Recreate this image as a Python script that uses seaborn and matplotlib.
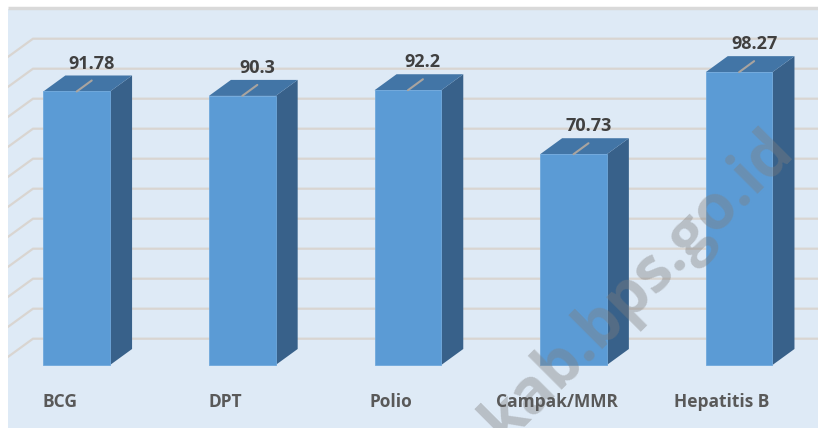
import numpy as np
import pandas as pd
import matplotlib
matplotlib.use('Agg')
import matplotlib.pyplot as plt
from matplotlib.patches import Polygon, Rectangle
import seaborn as sns

categories = ['BCG', 'DPT', 'Polio', 'Campak/MMR', 'Hepatitis B']
values = [91.78, 90.3, 92.2, 70.73, 98.27]
value_labels = ['91.78', '90.3', '92.2', '70.73', '98.27']
grid_values = list(range(0, 101, 10))
watermark = 'kab.bps.go.id'

sns.set_style('white')
plt.rcParams['font.family'] = ['Open Sans', 'DejaVu Sans']

front = '#5B9BD5'
side = '#38618A'
top = '#4275A6'
bg = '#DEEAF6'
grid = '#D9D5D1'

W, H = 818, 428
fig = plt.figure(figsize=(W / 100, H / 100), dpi=100)
ax = fig.add_axes([0, 0, 1, 1])

# front faces of the bars
df = pd.DataFrame({'category': categories, 'value': values})
sns.barplot(data=df, x='category', y='value', width=0.403, color=front,
            saturation=1, ax=ax, zorder=3, edgecolor='#6FA8DC', linewidth=0.6)
bars = list(ax.patches)

# layout in pixels -> data units
sx = 165.6            # px per category
sy = 2.98             # px per value unit
x0_px, base_px = 76.7, 365
ax.set_xlim(-x0_px / sx, (W - x0_px) / sx)
ax.set_ylim(-(H - base_px) / sy, base_px / sy)


def px(x, y):
    return (x - x0_px) / sx, (base_px - y) / sy


# plot area background and top border
ax.add_patch(Rectangle((8 / W, 0.5 / H), 1 - 8 / W, (H - 9.5) / H,
                       transform=ax.transAxes, facecolor=bg, edgecolor='none', zorder=0))
ax.plot([8 / W, 1], [1 - 8 / H, 1 - 8 / H], transform=ax.transAxes,
        color='#D9D9D9', lw=2.5, zorder=1, solid_capstyle='butt')

# back wall + side wall gridlines
for v in grid_values:
    yb = 338.7 - 3.0 * v
    xa, ya = px(33, yb)
    xb, yb2 = px(33 - 36.2, yb + 26.3)
    xc, _ = px(W, yb)
    ax.plot([xb, xa, xc], [yb2, ya, ya], color=grid, lw=1.6, zorder=1,
            solid_joinstyle='miter')
# keep side-wall lines inside the plot area
ax.add_patch(Rectangle((0, 0), 8 / W, 1, transform=ax.transAxes,
                       facecolor='white', edgecolor='none', zorder=1.5))

dx, dy = 22 / sx, 16 / sy
for i, (p, lab) in enumerate(zip(bars, value_labels)):
    x0, w, h = p.get_x(), p.get_width(), p.get_height()
    ax.add_patch(Polygon([(x0 + w, 0), (x0 + w + dx, dy), (x0 + w + dx, h + dy), (x0 + w, h)],
                         closed=True, facecolor=side, edgecolor='none', zorder=2.9))
    ax.add_patch(Polygon([(x0, h), (x0 + w, h), (x0 + w + dx, h + dy), (x0 + dx, h + dy)],
                         closed=True, facecolor=top, edgecolor='none', zorder=2.9))
    cx = x0 + w / 2
    ex, ey = cx + 15 / sx, h + 11 / sy
    ax.plot([cx, ex], [h, ey], color='#A9A49F', lw=1.5, zorder=4)
    ax.text(ex, ey + 2.6, lab, ha='center', va='bottom', fontsize=13,
            fontweight='bold', color='#404040', zorder=5)
    ax.text(cx - 17 / sx, (base_px - 401.7) / sy, categories[i],
            ha='center', va='center', fontsize=12.5, fontweight='bold',
            color='#595959', zorder=7)

# watermark
wx, wy = px(504, 443)
ax.text(wx, wy, watermark, rotation=45, rotation_mode='anchor', ha='left',
        va='baseline', fontsize=45, fontweight='bold', color='#7F7F7F',
        alpha=0.4, zorder=6)

ax.set_axis_off()
fig.savefig('out.png', dpi=100, facecolor='white')
